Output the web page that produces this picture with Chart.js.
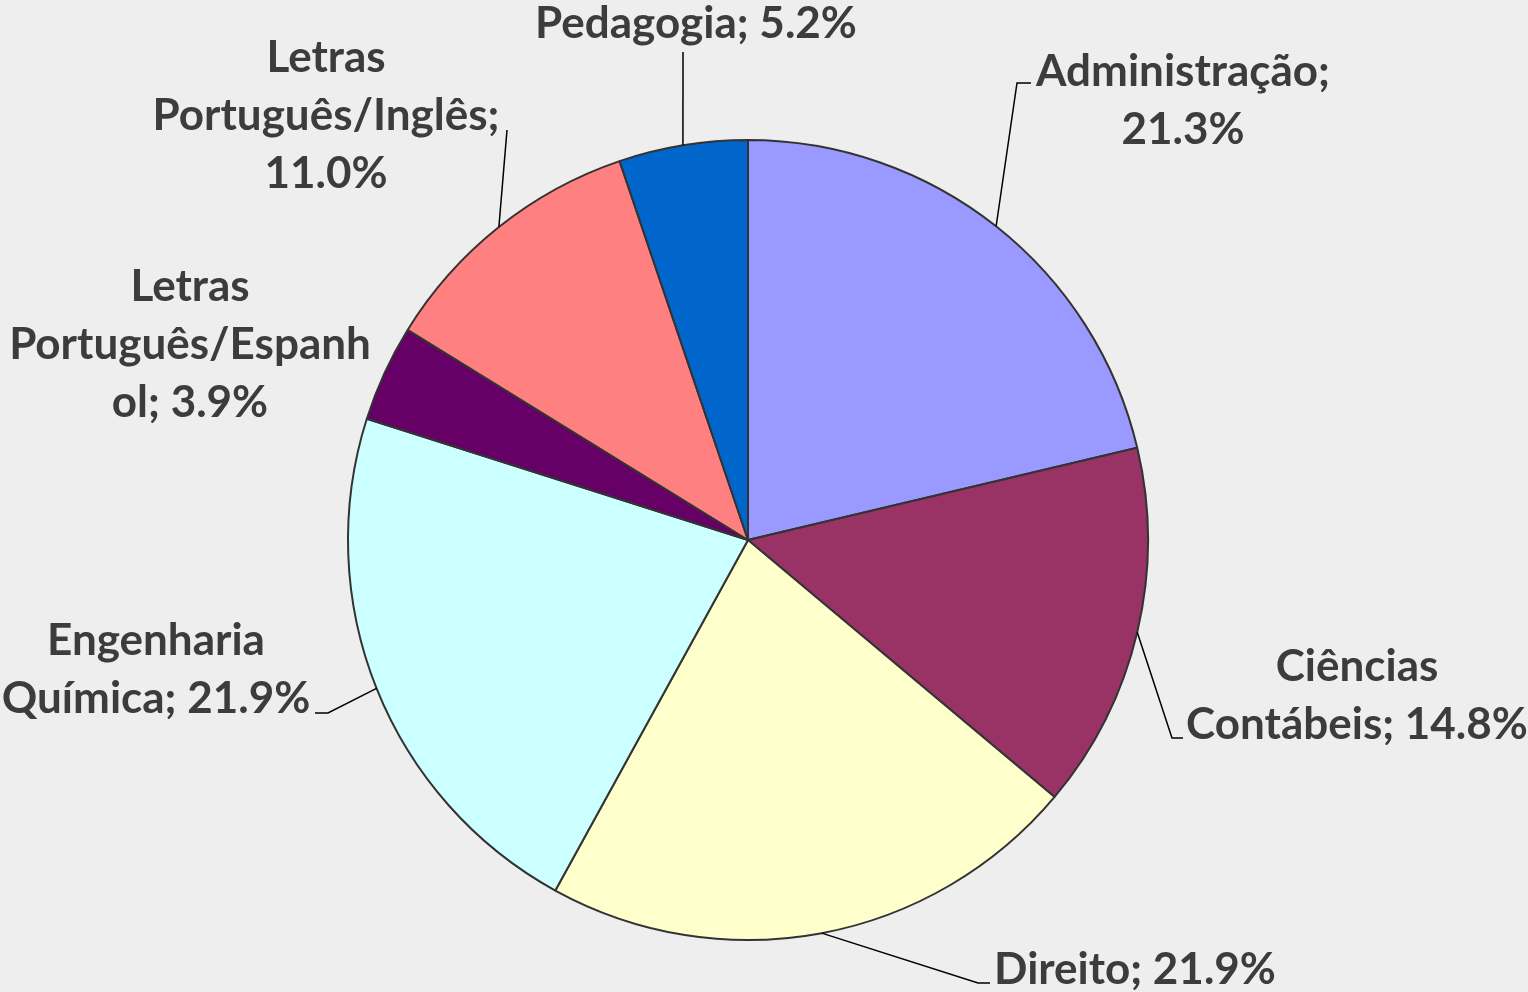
<!DOCTYPE html>
<html>
<head>
<meta charset="utf-8">
<script src="https://cdn.jsdelivr.net/npm/chart.js@4.4.0/dist/chart.umd.min.js"></script>
<style>
  html, body { margin: 0; padding: 0; background: #eeeeee; }
  canvas { display: block; }
</style>
</head>
<body>
<canvas id="cursosChart" width="1528" height="992"></canvas>
<script>
const categories = [
  'Administração',
  'Ciências Contábeis',
  'Direito',
  'Engenharia Química',
  'Letras Português/Espanhol',
  'Letras Português/Inglês',
  'Pedagogia'
];
const percentages = [21.3, 14.8, 21.9, 21.9, 3.9, 11.0, 5.2];
const sliceColors = ['#9999FF', '#993366', '#FFFFCC', '#CCFFFF', '#660066', '#FF8080', '#0066CC'];

// where each label sits, where its text wraps, and the leader line elbows
const labelLayout = [
  { x: 1183, y: 72,  breaks: [15],    leader: [[1017, 83], [1031, 83]] },
  { x: 1357, y: 667, breaks: [9],     leader: [[1172, 738], [1183, 738]] },
  { x: 1135, y: 970, breaks: [],      leader: [[978, 983], [990, 983]] },
  { x: 156,  y: 641, breaks: [11],    leader: [[328, 713], [315, 713]] },
  { x: 190,  y: 287, breaks: [7, 23], leader: [] },
  { x: 326,  y: 58,  breaks: [7, 25], leader: [[507, 130]] },
  { x: 696,  y: 24,  breaks: [],      leader: [[683, 52]] }
];
const lineGap = 58;

function splitLines(text, breaks) {
  const out = [];
  let start = 0;
  breaks.forEach(b => { out.push(text.slice(start, b).trim()); start = b; });
  out.push(text.slice(start).trim());
  return out;
}

const pieLabels = {
  id: 'pieLabels',
  afterDatasetsDraw(chart) {
    const ctx = chart.ctx;
    const meta = chart.getDatasetMeta(0);
    ctx.save();
    meta.data.forEach((arc, i) => {
      const p = arc.getProps(['x', 'y', 'startAngle', 'endAngle', 'outerRadius'], true);
      const mid = (p.startAngle + p.endAngle) / 2;
      const lay = labelLayout[i];
      if (lay.leader.length) {
        ctx.beginPath();
        ctx.moveTo(p.x + Math.cos(mid) * p.outerRadius, p.y + Math.sin(mid) * p.outerRadius);
        lay.leader.forEach(pt => ctx.lineTo(pt[0], pt[1]));
        ctx.strokeStyle = '#000000';
        ctx.lineWidth = 1.5;
        ctx.stroke();
      }
      const text = categories[i] + '; ' + percentages[i].toFixed(1) + '%';
      const lines = splitLines(text, lay.breaks);
      ctx.font = 'bold 44px Lato';
      ctx.fillStyle = '#3c3c3c';
      ctx.textAlign = 'center';
      ctx.textBaseline = 'middle';
      lines.forEach((ln, k) => ctx.fillText(ln, lay.x, lay.y + k * lineGap));
    });
    ctx.restore();
  }
};

new Chart(document.getElementById('cursosChart'), {
  type: 'pie',
  data: {
    labels: categories,
    datasets: [{
      data: percentages,
      backgroundColor: sliceColors,
      borderColor: '#333333',
      borderWidth: 2
    }]
  },
  options: {
    responsive: false,
    animation: false,
    layout: { padding: { left: 347, right: 379, top: 139, bottom: 51 } },
    plugins: {
      legend: { display: false },
      tooltip: { enabled: false }
    }
  },
  plugins: [pieLabels]
});
</script>
</body>
</html>
